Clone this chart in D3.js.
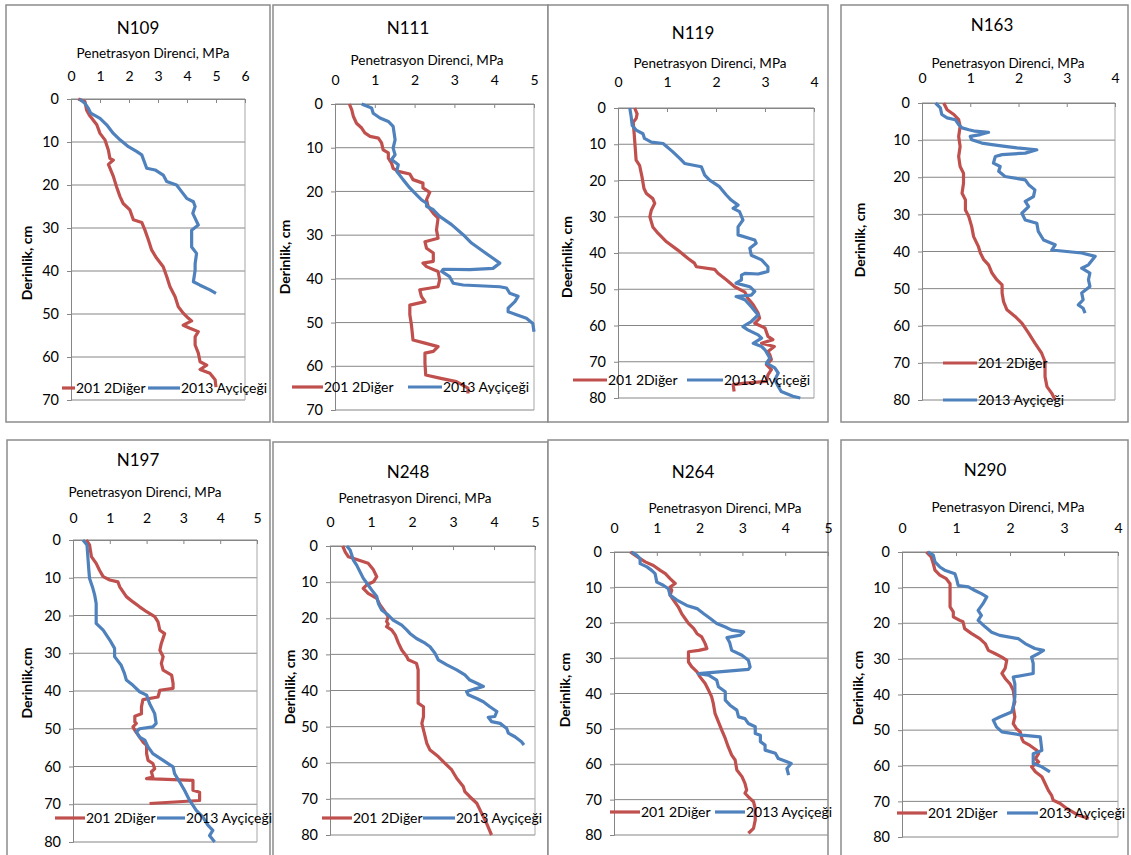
<!DOCTYPE html>
<html>
<head>
<meta charset="utf-8">
<script src="https://cdn.jsdelivr.net/npm/d3@7"></script>
<style>
body { margin: 0; background: #fff; }
svg { display: block; }
text { font-family: Lato, "Open Sans", sans-serif; fill: #000; }
</style>
</head>
<body>
<svg id="chart" width="1131" height="855"></svg>
<script>
// depth (cm), penetration resistance (MPa)
var n109Diger = [[0,0.25],[0.6,0.48],[2.6,0.54],[3.7,0.63],[6,0.89],[8,1.0],[9.5,1.17],[11.9,1.29],[13.8,1.34],[14.2,1.46],[15.2,1.29],[18,1.46],[20.4,1.57],[22.7,1.69],[24.3,1.8],[25.8,2.03],[28.1,2.15],[28.7,2.44],[30.5,2.55],[32.8,2.67],[35.1,2.78],[37,2.95],[39,3.18],[41.3,3.3],[43.6,3.41],[46,3.59],[48.3,3.7],[49.8,3.87],[51,4.05],[51.6,4.16],[52.6,3.87],[53.3,4.1],[54.1,4.39],[55.3,4.28],[57.2,4.28],[59.1,4.39],[61.1,4.45],[61.9,4.68],[62.9,4.45],[63.8,4.79],[65.3,4.97],[67,5.0]];
var n109Aycicegi = [[0,0.29],[1,0.48],[2.2,0.6],[3.3,0.68],[4.5,1.0],[6,1.23],[8,1.46],[9.5,1.69],[11.1,1.98],[12.2,2.26],[13,2.44],[15,2.55],[16.1,2.61],[16.5,2.9],[17.7,3.18],[19.2,3.3],[20,3.64],[21.6,3.82],[23.1,3.99],[23.9,4.22],[25,4.28],[26.6,4.2],[29.3,4.39],[30.5,4.16],[34.4,4.16],[35.9,4.33],[38.3,4.28],[39.8,4.28],[42.5,4.22],[43.3,4.45],[44.4,4.79],[45.2,5.0]];

var n111Diger = [[0,0.36],[1.3,0.42],[2.8,0.46],[4.4,0.54],[5.5,0.67],[6.6,0.75],[7.4,0.88],[7.8,1.09],[8.9,1.17],[10.5,1.21],[11.2,1.34],[12.4,1.34],[13.5,1.42],[14.7,1.46],[15.4,1.59],[16,1.88],[17.3,1.96],[18.1,2.21],[19.2,2.21],[20.2,2.38],[21.9,2.3],[23.4,2.34],[25,2.47],[26.1,2.59],[28.8,2.55],[30.7,2.59],[31.5,2.26],[33,2.3],[34.1,2.47],[36,2.47],[36.4,2.21],[37.2,2.3],[38.3,2.59],[40.2,2.63],[41.8,2.59],[42.5,2.13],[44,2.17],[45.2,2.26],[46,1.88],[48.2,1.88],[50.5,1.92],[54,1.96],[54.7,2.26],[55.5,2.59],[56.6,2.47],[57,2.26],[59.3,2.26],[62,2.28],[62.7,2.63],[63.5,3.05],[65,3.34],[66.2,3.34]];
var n111Aycicegi = [[0,0.67],[0.9,0.92],[2.1,0.96],[3.2,1.13],[4,1.34],[5.1,1.46],[8.2,1.51],[10.1,1.46],[11.6,1.51],[12.7,1.42],[13.9,1.59],[15.4,1.55],[17.3,1.71],[19.2,1.88],[20.8,2.05],[21.9,2.17],[22.7,2.3],[23.4,2.3],[24.2,2.47],[25.7,2.63],[27.6,2.93],[29.9,3.22],[31.8,3.43],[33.7,3.72],[35.3,3.97],[36.4,4.14],[37.6,3.97],[37.9,3.39],[37.8,2.72],[38.3,2.68],[39.5,2.88],[41,2.97],[41.4,3.22],[41.8,4.14],[42.1,4.31],[43.3,4.39],[44,4.6],[45.2,4.52],[46.7,4.35],[47.5,4.35],[48.2,4.56],[49,4.81],[50.2,4.97],[52.1,5.0]];

var n119Diger = [[0,0.34],[1.6,0.39],[2.9,0.37],[3.9,0.31],[7.1,0.33],[10.7,0.35],[14.4,0.37],[15.8,0.44],[19,0.49],[22.2,0.53],[23.6,0.58],[25,0.71],[26.3,0.75],[28.2,0.68],[30,0.65],[32.8,0.71],[34.6,0.82],[36.9,0.99],[39.2,1.22],[41.5,1.43],[42.8,1.56],[43.8,1.6],[44.5,1.97],[45.6,2.04],[47.4,2.21],[49.3,2.38],[50.8,2.59],[52.5,2.65],[54.3,2.76],[56.6,2.86],[58,2.89],[59.4,2.79],[60.7,3.0],[63,3.06],[63.9,3.16],[64.9,2.93],[65.8,3.19],[67.2,3.06],[68.1,3.1],[69.4,3.13],[70.8,3.03],[72.2,3.13],[73.6,3.06],[75.4,3.03],[75.9,2.59],[76.3,2.35],[78.2,2.37]];
var n119Aycicegi = [[0,0.24],[2.5,0.27],[4.8,0.29],[6.1,0.37],[7.1,0.51],[8.4,0.54],[9.4,0.68],[9.8,0.92],[12.1,1.12],[13.9,1.26],[15.3,1.36],[16.2,1.7],[18.5,1.77],[19.9,1.87],[21.7,2.07],[24,2.21],[25.4,2.31],[26.8,2.45],[27.7,2.35],[28.6,2.48],[30.9,2.55],[32.8,2.45],[35,2.45],[36.4,2.79],[37.3,2.82],[38.7,2.69],[40.6,2.72],[41.9,2.93],[43.8,3.06],[45.1,3.06],[45.8,2.86],[45.6,2.59],[46.1,2.52],[47.4,2.52],[48.3,2.41],[49.3,2.69],[50.6,2.79],[51.6,2.72],[52,2.41],[52.9,2.59],[54.8,2.72],[57.1,2.86],[58.9,2.72],[60.3,2.55],[61.2,2.65],[62.6,2.86],[63.5,2.93],[64.9,2.76],[65.8,2.93],[66.7,3.0],[69,3.1],[70.4,3.03],[71.7,3.2],[73.1,3.27],[75,3.2],[76.8,3.27],[78.2,3.33],[79.5,3.57],[80,3.72]];

var n163Diger = [[0,0.45],[1.8,0.52],[3.1,0.66],[4.5,0.76],[6.3,0.79],[9,0.76],[11.7,0.79],[14.4,0.76],[17.1,0.79],[18.9,0.86],[21.6,0.86],[24.3,0.83],[26.1,0.9],[28.8,0.9],[30.6,0.97],[33.3,1.03],[36,1.07],[38.7,1.17],[40.4,1.21],[42.2,1.28],[43.6,1.38],[45.8,1.45],[47.6,1.55],[49,1.66],[51.2,1.66],[53.5,1.69],[55.7,1.76],[57.5,1.93],[59.3,2.07],[62,2.21],[64.7,2.34],[67.4,2.48],[69.7,2.55],[73.7,2.55],[76.4,2.59],[78.2,2.69],[80,2.76]];
var n163Aycicegi = [[0,0.28],[1.3,0.38],[3.1,0.41],[4,0.52],[4.5,0.69],[5.8,0.76],[6.7,0.83],[7.2,0.97],[7.6,1.1],[7.9,1.38],[8.5,1.21],[9,1.0],[9.9,1.03],[10.8,1.24],[11.2,1.45],[11.7,1.72],[12.1,1.97],[12.6,2.38],[13.5,2.14],[13.9,1.66],[14.4,1.52],[16.2,1.48],[17.1,1.62],[18.4,1.59],[19.8,1.72],[20.7,2.14],[22,2.21],[23.4,2.34],[25.2,2.31],[26.5,2.14],[27.9,2.21],[29.7,2.07],[31.5,2.14],[32.4,2.38],[34.6,2.41],[36.9,2.52],[38.2,2.76],[39.6,2.69],[40.4,3.31],[41.3,3.59],[43.6,3.45],[44.5,3.31],[45.8,3.48],[47.6,3.45],[49.4,3.48],[51.2,3.31],[53,3.34],[54.4,3.24],[55.3,3.34],[56.6,3.38]];

var n197Diger = [[0,0.36],[1.3,0.45],[4.4,0.5],[6.2,0.63],[8,0.72],[9.7,0.82],[10.6,1.0],[11.1,1.22],[12.4,1.27],[15,1.45],[16.4,1.63],[17.7,1.81],[19,2.0],[20.3,2.22],[21.7,2.31],[23.9,2.36],[24.8,2.49],[27.4,2.4],[29.2,2.36],[30.9,2.45],[32.7,2.4],[34.5,2.45],[35.8,2.68],[38,2.72],[39.3,2.72],[39.8,2.36],[41.6,2.31],[42.3,1.9],[44.2,1.86],[46,1.86],[46.7,1.68],[48.2,1.68],[48.6,1.72],[49.5,1.63],[50.4,1.68],[52.2,1.81],[53.5,1.9],[54.4,2.0],[56.6,2.0],[58.4,2.04],[59.2,2.17],[60.6,2.22],[61.4,2.13],[62.8,2.17],[63.2,2.0],[63.7,3.26],[66.3,3.26],[66.8,3.44],[69,3.44],[69.8,2.08]];
var n197Aycicegi = [[0,0.27],[1.3,0.38],[5.3,0.41],[8,0.43],[10.2,0.45],[12.8,0.54],[14.6,0.59],[16.8,0.63],[20.3,0.63],[22.1,0.63],[23.9,0.82],[26.5,1.0],[28.7,1.13],[30.9,1.13],[33.2,1.31],[35.4,1.4],[37.1,1.45],[38.5,1.63],[40.2,1.81],[41.1,2.0],[43.3,2.08],[46,2.22],[48.6,2.26],[49.5,2.17],[50,1.81],[50.8,1.72],[52.2,1.81],[53,1.95],[54.8,2.04],[56.6,2.17],[58.4,2.45],[60.1,2.72],[61.9,2.76],[64.1,2.9],[66.3,3.03],[69,3.17],[71.6,3.35],[73.4,3.53],[75.6,3.67],[76.9,3.8],[78.3,3.71],[80,3.85]];

var n248Diger = [[0,0.31],[1.6,0.37],[3,0.45],[3.9,0.69],[4.8,0.93],[6.6,1.06],[8.5,1.14],[9.9,1.06],[10.8,0.89],[11.7,0.81],[13.1,0.93],[14.5,1.14],[16.3,1.22],[18.2,1.34],[19.6,1.42],[20.9,1.38],[21.6,1.42],[22.3,1.38],[23.2,1.5],[24.6,1.59],[26.9,1.67],[28.8,1.75],[30.6,1.87],[31.5,1.91],[32.5,2.11],[34.3,2.15],[38,2.15],[41.7,2.15],[43.5,2.15],[44.5,2.28],[47.2,2.28],[49.1,2.24],[50.9,2.28],[54.6,2.36],[56.5,2.44],[58.3,2.64],[60.1,2.8],[62,2.97],[64.3,3.09],[66.6,3.25],[68,3.29],[69.4,3.41],[71.2,3.58],[74,3.7],[76.8,3.82],[80,3.94]];
var n248Aycicegi = [[0,0.41],[1.1,0.49],[2.5,0.53],[3.9,0.57],[5.3,0.65],[7.1,0.73],[8.9,0.81],[10.8,0.93],[12.2,1.02],[14,1.14],[15.9,1.18],[17.7,1.26],[19.1,1.42],[20.5,1.54],[21.9,1.75],[23.2,1.87],[24.2,1.95],[25.6,2.11],[26.9,2.32],[27.9,2.44],[29.7,2.56],[31.5,2.64],[32.9,2.85],[34.3,3.09],[35.7,3.29],[37.1,3.41],[38,3.58],[38.9,3.74],[39.4,3.58],[40.3,3.33],[41.2,3.37],[42.2,3.58],[43.1,3.74],[44.5,3.9],[45.8,4.07],[47.2,4.02],[47.4,3.86],[48.6,3.94],[49.1,4.15],[50.5,4.31],[51.8,4.35],[52.8,4.51],[54.2,4.67],[55.1,4.73]];

var n264Diger = [[0,0.38],[0.9,0.49],[1.9,0.61],[2.8,0.73],[3.8,0.92],[5.2,1.08],[6.1,1.2],[7.5,1.31],[8.9,1.43],[9.9,1.31],[10.8,1.35],[12.2,1.31],[13.6,1.39],[15.5,1.5],[17.4,1.58],[18.8,1.66],[20.2,1.74],[21.6,1.86],[23.1,1.94],[24,2.05],[25.9,2.13],[27.3,2.17],[27.8,1.98],[28.2,1.74],[31.1,1.74],[32.5,1.82],[33.9,1.94],[35.3,2.01],[37.2,2.13],[39.1,2.21],[40.9,2.28],[42.8,2.32],[45.6,2.36],[48,2.44],[50.4,2.52],[52.7,2.6],[55.1,2.67],[57.4,2.75],[58.8,2.83],[61.6,2.87],[63.5,2.99],[65.4,3.06],[67.3,3.1],[68.2,3.06],[69.2,3.14],[70.6,3.26],[72.5,3.3],[75.8,3.3],[78.1,3.26],[79.5,3.14]];
var n264Aycicegi = [[0,0.41],[0.9,0.53],[1.9,0.61],[3.3,0.61],[4.2,0.77],[5.2,0.88],[6.1,0.96],[8.5,1.0],[9.4,1.15],[10.4,1.27],[12.2,1.31],[13.6,1.47],[15.1,1.7],[16,1.94],[17.4,2.09],[18.8,2.25],[20.2,2.4],[21.2,2.6],[22.1,2.75],[22.6,3.03],[23.5,2.95],[24.2,2.64],[25.5,2.7],[27.8,2.75],[29.2,2.99],[30.6,3.14],[32.5,3.18],[33.2,3.14],[34.4,1.97],[34.8,2.21],[36.2,2.4],[38.1,2.44],[39.5,2.6],[41.9,2.6],[43.3,2.71],[44.7,2.87],[46.6,2.91],[47.1,3.06],[48.5,3.14],[49.4,3.3],[51.3,3.3],[51.8,3.42],[53.6,3.42],[54.6,3.53],[56,3.53],[56.9,3.77],[58.4,3.84],[59.3,4.04],[59.8,4.14],[61.2,4.04],[63.1,4.08]];

var n290Diger = [[0,0.45],[1.4,0.54],[3.3,0.58],[5.1,0.61],[6.5,0.7],[7.5,0.82],[8.9,0.89],[12.6,0.89],[15.4,0.89],[16.8,0.95],[18.2,0.95],[19.2,1.07],[19.6,1.13],[21.5,1.16],[22.9,1.29],[24.3,1.44],[25.7,1.54],[27.6,1.6],[28.5,1.72],[29.5,1.85],[30.4,1.94],[32.7,1.91],[34.1,1.85],[35.5,1.91],[37,2.0],[38.8,2.06],[42.1,2.09],[43.5,2.06],[46.3,2.09],[48.2,2.06],[49.6,2.12],[50.5,2.19],[52.4,2.22],[53.3,2.25],[54.3,2.37],[55.7,2.5],[56.6,2.53],[58,2.47],[58.9,2.53],[60.3,2.4],[61.7,2.47],[63.1,2.59],[65,2.65],[66.9,2.71],[68.3,2.77],[69.7,2.8],[70.6,2.93],[72,3.05],[73.9,3.27],[74.8,3.46]];
var n290Aycicegi = [[0,0.48],[0.9,0.58],[2.8,0.61],[4.2,0.7],[5.1,0.79],[6.1,0.98],[7.5,1.01],[9.4,1.04],[9.8,1.23],[10.8,1.35],[11.7,1.47],[12.6,1.57],[14.5,1.5],[16.4,1.41],[17.8,1.47],[19.2,1.41],[21,1.54],[22.5,1.66],[23.4,1.81],[24.3,2.15],[25.7,2.28],[27.1,2.46],[27.6,2.62],[28.5,2.53],[29.5,2.4],[31.3,2.43],[34.1,2.43],[35.1,2.06],[37,2.09],[40.7,2.09],[43.5,2.06],[44.9,2.03],[46.3,1.81],[47.2,1.69],[49.1,1.75],[50.5,1.85],[51.4,2.22],[51.9,2.56],[55.7,2.59],[56.6,2.43],[59.4,2.43],[60.3,2.59],[61.7,2.74]];

var seriesNames = ["201 2Diğer", "2013 Ayçiçeği"];
var seriesColors = ["#c0504d", "#4f81bd"];
var xTitle = "Penetrasyon Direnci, MPa";

// layout of each panel (pixel positions)
var panels = [
  {title: "N109", data: [n109Diger, n109Aycicegi], xMax: 6, yMax: 70, yLabel: "Derinlik, cm",
   box: [6, 5, 270, 422], plot: [71, 99, 245, 400], titleXY: [138, 28], xTitleXY: [153, 53], tickY: 76, yLabelXY: [27, 263],
   legend: [[62, 75, 388], [148, 180, 388]]},
  {title: "N111", data: [n111Diger, n111Aycicegi], xMax: 5, yMax: 70, yLabel: "Derinlik, cm",
   box: [273, 5, 548, 422], plot: [335, 104, 534, 410], titleXY: [408, 28], xTitleXY: [427, 60], tickY: 80, yLabelXY: [285, 257],
   legend: [[292, 323, 387], [408, 442, 387]]},
  {title: "N119", data: [n119Diger, n119Aycicegi], xMax: 4, yMax: 80, yLabel: "Deerinlik, cm",
   box: [548, 5, 828, 422], plot: [618, 108, 814, 398], titleXY: [693, 33], xTitleXY: [710, 63], tickY: 82, yLabelXY: [567, 257],
   legend: [[573, 607, 380], [687, 723, 380]]},
  {title: "N163", data: [n163Diger, n163Aycicegi], xMax: 4, yMax: 80, yLabel: "Derinlik, cm",
   box: [841, 5, 1128, 422], plot: [922, 103, 1115, 400], titleXY: [992, 25], xTitleXY: [1008, 63], tickY: 78, yLabelXY: [860, 240],
   legend: [[943, 977, 363], [943, 977, 400]]},
  {title: "N197", data: [n197Diger, n197Aycicegi], xMax: 5, yMax: 80, yLabel: "Derinlik,cm",
   box: [7, 440, 270, 870], plot: [73, 540, 257, 842], titleXY: [138, 460], xTitleXY: [145, 492], tickY: 518, yLabelXY: [27, 683],
   legend: [[55, 85, 818], [157, 185, 818]]},
  {title: "N248", data: [n248Diger, n248Aycicegi], xMax: 5, yMax: 80, yLabel: "Derinlik, cm",
   box: [273, 442, 548, 870], plot: [330, 546, 535, 835], titleXY: [408, 472], xTitleXY: [415, 498], tickY: 522, yLabelXY: [290, 687],
   legend: [[322, 352, 818], [423, 455, 818]]},
  {title: "N264", data: [n264Diger, n264Aycicegi], xMax: 5, yMax: 80, yLabel: "Derinlik, cm",
   box: [548, 440, 828, 870], plot: [614, 552, 828, 835], titleXY: [693, 472], xTitleXY: [725, 508], tickY: 528, yLabelXY: [565, 690],
   legend: [[610, 640, 812], [715, 745, 812]]},
  {title: "N290", data: [n290Diger, n290Aycicegi], xMax: 4, yMax: 80, yLabel: "Derinlik, cm",
   box: [841, 440, 1128, 870], plot: [902, 552, 1118, 837], titleXY: [985, 470], xTitleXY: [1008, 507], tickY: 528, yLabelXY: [858, 688],
   legend: [[897, 927, 813], [1007, 1038, 813]]}
];

var svg = d3.select("#chart");

panels.forEach(function(p) {
    var g = svg.append("g");

    g.append("rect")
        .attr("x", p.box[0]).attr("y", p.box[1])
        .attr("width", p.box[2] - p.box[0]).attr("height", p.box[3] - p.box[1])
        .attr("fill", "#fff").attr("stroke", "#8c8c8c").attr("stroke-width", 1.5);

    var x = d3.scaleLinear().domain([0, p.xMax]).range([p.plot[0], p.plot[2]]);
    var y = d3.scaleLinear().domain([0, p.yMax]).range([p.plot[1], p.plot[3]]);
    var yTicks = d3.range(0, p.yMax + 1, 10);

    // gridlines
    g.selectAll(".grid").data(yTicks).enter().append("line")
        .attr("x1", p.plot[0]).attr("x2", p.plot[2])
        .attr("y1", function(d) { return y(d); }).attr("y2", function(d) { return y(d); })
        .attr("stroke", "#868686").attr("stroke-width", 1);

    g.append("line")
        .attr("x1", p.plot[2]).attr("x2", p.plot[2])
        .attr("y1", p.plot[1]).attr("y2", p.plot[3])
        .attr("stroke", "#a6a6a6").attr("stroke-width", 1);

    // top axis
    var xAxis = d3.axisTop(x).ticks(p.xMax).tickSizeInner(-4).tickSizeOuter(0)
        .tickPadding(p.plot[1] - p.tickY - 5);
    var xg = g.append("g").attr("transform", "translate(0," + p.plot[1] + ")").call(xAxis);
    xg.select(".domain").attr("stroke", "#868686");
    xg.selectAll(".tick line").attr("stroke", "#868686");
    xg.selectAll(".tick text").style("font-size", "14px").attr("fill", "#000").style("font-family", "Lato, sans-serif");

    // left axis
    var yAxis = d3.axisLeft(y).tickValues(yTicks).tickSize(4).tickPadding(8);
    var yg = g.append("g").attr("transform", "translate(" + p.plot[0] + ",0)").call(yAxis);
    yg.select(".domain").attr("stroke", "#868686");
    yg.selectAll(".tick line").attr("stroke", "#868686");
    yg.selectAll(".tick text").style("font-size", "14.5px").style("font-family", "Lato, sans-serif")
        .attr("fill", function(d) { return d === 0 ? "#000" : "#ff0000"; });

    // lines
    var line = d3.line()
        .x(function(d) { return x(d[1]); })
        .y(function(d) { return y(d[0]); });

    p.data.forEach(function(s, i) {
        g.append("path").datum(s)
            .attr("d", line)
            .attr("fill", "none")
            .attr("stroke", seriesColors[i])
            .attr("stroke-width", 3.2)
            .attr("stroke-linejoin", "round");
    });

    // texts
    g.append("text").attr("x", p.titleXY[0]).attr("y", p.titleXY[1]).attr("dy", "0.35em")
        .attr("text-anchor", "middle").style("font-size", "17px").text(p.title);
    g.append("text").attr("x", p.xTitleXY[0]).attr("y", p.xTitleXY[1]).attr("dy", "0.35em")
        .attr("text-anchor", "middle").style("font-size", "13.5px").text(xTitle);
    g.append("text")
        .attr("transform", "translate(" + p.yLabelXY[0] + "," + p.yLabelXY[1] + ") rotate(-90)")
        .attr("dy", "0.35em").attr("text-anchor", "middle")
        .style("font-size", "14px").style("font-weight", "bold").text(p.yLabel);

    // legend
    p.legend.forEach(function(l, i) {
        g.append("line").attr("x1", l[0]).attr("x2", l[1]).attr("y1", l[2]).attr("y2", l[2])
            .attr("stroke", seriesColors[i]).attr("stroke-width", 3.2);
        g.append("text").attr("x", l[1] + 1).attr("y", l[2]).attr("dy", "0.35em")
            .style("font-size", "14px").text(seriesNames[i]);
    });
});
</script>
</body>
</html>
